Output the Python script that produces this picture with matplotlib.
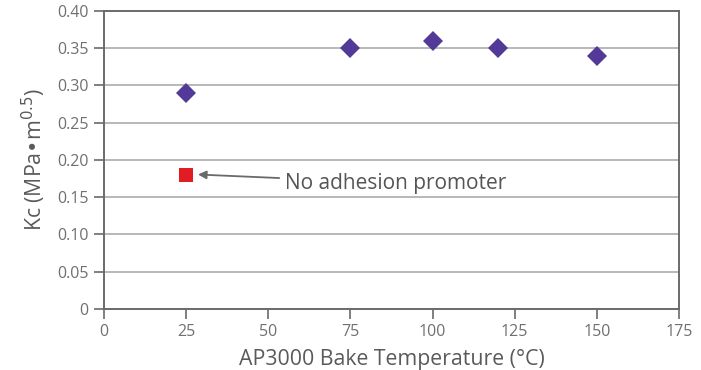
import matplotlib
matplotlib.use("Agg")
import matplotlib.pyplot as plt
from matplotlib.ticker import FuncFormatter

plt.rcParams['font.family'] = ['Open Sans', 'DejaVu Sans']

temps = [25, 75, 100, 120, 150]
kc = [0.29, 0.35, 0.36, 0.35, 0.34]
noap_temp = [25]
noap_kc = [0.18]
annot_text = "No adhesion promoter"
xticks = [0, 25, 50, 75, 100, 125, 150, 175]
yticks = [0, 0.05, 0.10, 0.15, 0.20, 0.25, 0.30, 0.35, 0.40]

gray = '#5a5a5a'
fig = plt.figure(figsize=(7.01, 3.70), dpi=100)
ax = fig.add_axes([0.1484, 0.1649, 0.9686 - 0.1484, 0.9703 - 0.1649])

ax.set_xlim(0, 175)
ax.set_ylim(0, 0.40)
ax.set_xticks(xticks)
ax.set_yticks(yticks)
ax.yaxis.set_major_formatter(FuncFormatter(lambda v, p: '0' if v == 0 else f'{v:.2f}'))

ax.grid(axis='y', color='#ababab', linewidth=1.2)
ax.set_axisbelow(True)
for s in ax.spines.values():
    s.set_color('#6a6a6a')
    s.set_linewidth(1.4)

ax.tick_params(direction='out', length=7, width=1.2, color='#6a6a6a',
               labelcolor='#707070', labelsize=11.5, pad=4)

ax.plot(temps, kc, linestyle='none', marker='D', markersize=10,
        color='#533a98', markeredgewidth=0, zorder=3)
ax.plot(noap_temp, noap_kc, linestyle='none', marker='s', markersize=10,
        color='#e11d23', markeredgewidth=0, zorder=3)

ax.annotate(annot_text, xy=(28.6, 0.1805), xytext=(55, 0.169),
            fontsize=15, color='#555555', va='center', ha='left',
            arrowprops=dict(arrowstyle='-|>', color='#6a6a6a', lw=1.3,
                            mutation_scale=12, shrinkA=2, shrinkB=0))

ax.set_xlabel('AP3000 Bake Temperature (°C)', fontsize=15.3, color=gray, labelpad=6)
ax.set_ylabel('Kc (MPa•m$^{0.5}$)', fontsize=15.3, color=gray, labelpad=7)

fig.savefig('out.png', dpi=100)
